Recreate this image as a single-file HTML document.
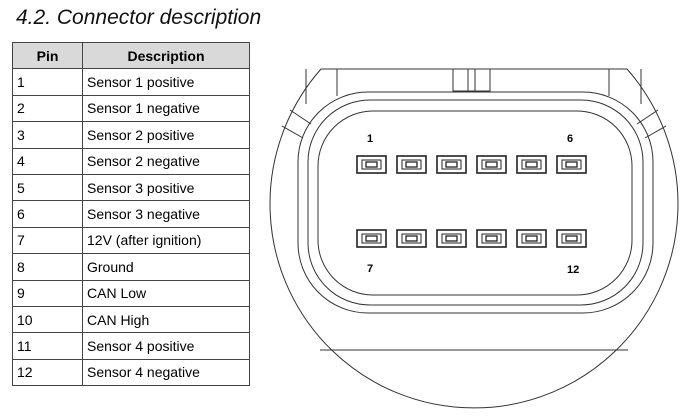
<!DOCTYPE html>
<html><head><style>
body{margin:0;width:690px;height:420px;background:#fff;position:relative;overflow:hidden;font-family:"Liberation Sans",sans-serif}
h1{position:absolute;left:16px;top:6px;margin:0;font-size:21px;font-weight:normal;font-style:italic;color:#111}
table{position:absolute;left:12px;top:42px;border-collapse:collapse;font-size:14px;color:#000}
td,th{border:1px solid #444;height:25.4px;padding:0 0 0 4px;text-align:left}
th{background:#d9d9d9;text-align:center;font-weight:bold;padding:0}
</style></head><body>
<h1>4.2. Connector description</h1>
<table>
<tr><th style="width:69px">Pin</th><th style="width:166px">Description</th></tr>
<tr><td>1</td><td>Sensor 1 positive</td></tr>
<tr><td>2</td><td>Sensor 1 negative</td></tr>
<tr><td>3</td><td>Sensor 2 positive</td></tr>
<tr><td>4</td><td>Sensor 2 negative</td></tr>
<tr><td>5</td><td>Sensor 3 positive</td></tr>
<tr><td>6</td><td>Sensor 3 negative</td></tr>
<tr><td>7</td><td>12V (after ignition)</td></tr>
<tr><td>8</td><td>Ground</td></tr>
<tr><td>9</td><td>CAN Low</td></tr>
<tr><td>10</td><td>CAN High</td></tr>
<tr><td>11</td><td>Sensor 4 positive</td></tr>
<tr><td>12</td><td>Sensor 4 negative</td></tr>
</table>
<svg width="690" height="420" style="position:absolute;left:0;top:0" fill="none" stroke="#333" stroke-width="1">
<path d="M321 69 A204 204 0 1 0 627 69 Z"/>
<line x1="320" y1="350" x2="628" y2="350"/>
<line x1="306" y1="69" x2="306" y2="104"/><line x1="337" y1="69" x2="337" y2="96"/>
<line x1="641" y1="69" x2="641" y2="104"/><line x1="609" y1="69" x2="609" y2="96"/>
<line x1="290" y1="110" x2="311" y2="124"/><line x1="282" y1="126" x2="303" y2="138"/>
<line x1="658" y1="110" x2="637" y2="124"/><line x1="666" y1="126" x2="645" y2="138"/>
<rect x="453" y="69" width="37" height="22"/><line x1="468" y1="69" x2="468" y2="91"/><line x1="475" y1="69" x2="475" y2="91"/>
<rect x="298" y="92" width="355" height="221" rx="70"/>
<rect x="308" y="100" width="335" height="205" rx="62"/>
<rect x="318" y="111" width="314" height="184" rx="55"/>
<g id="p" stroke="#222"><rect x="357" y="156" width="29" height="17" stroke-width="1.6"/><rect x="362" y="160" width="19" height="9"/><rect x="366" y="162" width="11" height="5" stroke-width="1.3"/></g>
<use href="#p" x="40"/><use href="#p" x="80"/><use href="#p" x="120"/><use href="#p" x="160"/><use href="#p" x="200"/>
<use href="#p" y="74"/><use href="#p" x="40" y="74"/><use href="#p" x="80" y="74"/><use href="#p" x="120" y="74"/><use href="#p" x="160" y="74"/><use href="#p" x="200" y="74"/>
<g fill="#000" stroke="none" font-size="11" font-weight="bold" font-family="Liberation Sans">
<text x="367" y="142">1</text><text x="567" y="142">6</text><text x="367" y="272">7</text><text x="567" y="273">12</text></g>
</svg>
</body></html>
